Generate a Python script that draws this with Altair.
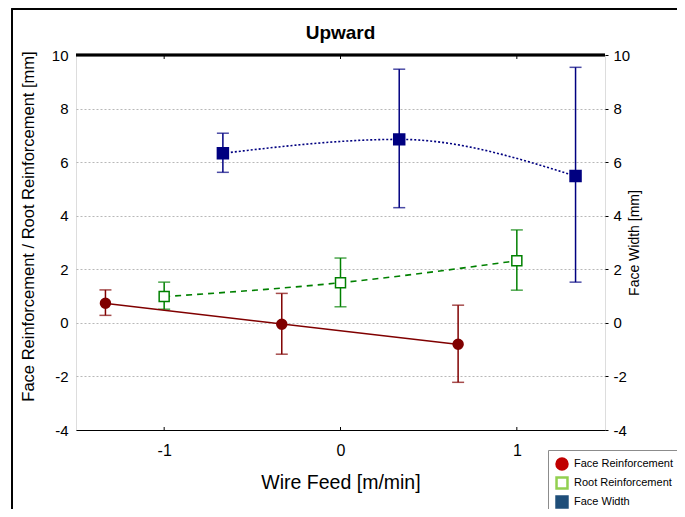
import altair as alt
import pandas as pd

# ---- data ----
x_face = [-1.333, -0.333, 0.667]
face_mean = [0.73, -0.05, -0.80]
face_lo = [0.28, -1.17, -2.22]
face_hi = [1.23, 1.10, 0.66]

x_root = [-1.0, 0.0, 1.0]
root_mean = [0.98, 1.50, 2.32]
root_lo = [0.51, 0.60, 1.22]
root_hi = [1.52, 2.42, 3.47]

x_width = [-0.667, 0.333, 1.333]
width_mean = [6.33, 6.85, 5.48]
width_lo = [5.62, 4.30, 1.52]
width_hi = [7.08, 9.47, 9.54]

series_names = ["Face Reinforcement", "Root Reinforcement", "Face Width"]
x_ticks = [-1, 0, 1]
y_ticks = [-4, -2, 0, 2, 4, 6, 8, 10]

# ---- layout / style ----
W, H = 529, 375
FONT = "Liberation Sans"
C_FACE, C_ROOT, C_WIDTH = "#800000", "#008000", "#000080"
MINUS_FIX = "replace(datum.label, '\u2212', '-')"


def frame(xs, m, lo, hi):
    return pd.DataFrame({"x": xs, "m": m, "lo": lo, "hi": hi})


face_df = frame(x_face, face_mean, face_lo, face_hi)
root_df = frame(x_root, root_mean, root_lo, root_hi)
width_df = frame(x_width, width_mean, width_lo, width_hi)
tick_df = pd.DataFrame({"x": x_ticks})
legend_df = pd.DataFrame({"series": series_names, "x": [0, 0, 0], "m": [0, 0, 0]})

xs = alt.Scale(domain=[-1.5, 1.5], nice=False, zero=False)
ys = alt.Scale(domain=[-4, 10], nice=False, zero=False)

x_axis = alt.Axis(values=x_ticks, title="Wire Feed [m/min]", grid=False,
                  domain=True, domainColor="black", domainWidth=1,
                  ticks=False, labelFontSize=16, labelPadding=12, labelExpr=MINUS_FIX,
                  titleFontSize=19.5, titlePadding=15, titleFontWeight="normal")
X = alt.X("x:Q", scale=xs, axis=x_axis)

left_axis = alt.Axis(values=y_ticks, title="Face Reinforcement / Root Reinforcement [mm]",
                     grid=True, gridColor="#b8b8b8", gridDash=[2, 2], gridWidth=1,
                     domain=False, ticks=False, labelFontSize=15, labelPadding=8,
                     labelExpr=MINUS_FIX,
                     titleFontSize=16.5, titlePadding=15, titleFontWeight="normal",
                     titleY=171)
right_axis = alt.Axis(values=y_ticks, title="Face Width [mm]", orient="right",
                      grid=False, domain=False, ticks=True, tickSize=3, tickColor="black",
                      labelFontSize=15, labelPadding=5, labelExpr=MINUS_FIX,
                      titleFontSize=14, titlePadding=12, titleFontWeight="normal",
                      titleAngle=270)


def YL(field):
    return alt.Y(f"{field}:Q", scale=ys, axis=left_axis)


def YR(field):
    return alt.Y(f"{field}:Q", scale=ys, axis=right_axis)


def series(df, color, Yf, method, dash, point):
    line_kw = dict(color=color, strokeWidth=1.6)
    if dash:
        line_kw["strokeDash"] = dash
    if method == "linear":
        line = alt.Chart(df).transform_regression("m", "x", method="linear").mark_line(
            **line_kw).encode(x=X, y=Yf("m"))
    else:
        line = alt.Chart(df).mark_line(interpolate=method, **line_kw).encode(
            x=X, y=Yf("m"))
    bar = alt.Chart(df).mark_rule(color=color, strokeWidth=1.5).encode(
        x=X, y=Yf("lo"), y2="hi:Q")
    cap_lo = alt.Chart(df).mark_tick(color=color, orient="horizontal", size=12,
                                     thickness=1.5).encode(x=X, y=Yf("lo"))
    cap_hi = alt.Chart(df).mark_tick(color=color, orient="horizontal", size=12,
                                     thickness=1.5).encode(x=X, y=Yf("hi"))
    pts = alt.Chart(df).mark_point(**point).encode(x=X, y=Yf("m"))
    return [line, bar, cap_lo, cap_hi, pts]


face_layers = series(face_df, C_FACE, YL, "linear", None,
                     dict(shape="circle", filled=True, fill=C_FACE, stroke=C_FACE,
                          size=90, opacity=1))
root_layers = series(root_df, C_ROOT, YL, "natural", [6, 5],
                     dict(shape="square", filled=True, fill="white", stroke=C_ROOT,
                          strokeWidth=1.5, size=100, opacity=1))
width_layers = series(width_df, C_WIDTH, YR, "monotone", [2, 2],
                      dict(shape="square", filled=True, fill=C_WIDTH, stroke=C_WIDTH,
                           size=110, opacity=1))

# decorations: thick top frame, inward ticks, outer border
top_line = alt.Chart(tick_df).mark_rule(color="black", strokeWidth=2.5).encode(
    x=alt.value(0), x2=alt.value(W), y=alt.value(0))
top_ticks = alt.Chart(tick_df).mark_rule(color="black", strokeWidth=1).encode(
    x=X, y=alt.value(0), y2=alt.value(4))
bot_ticks = alt.Chart(tick_df).mark_rule(color="black", strokeWidth=1).encode(
    x=X, y=alt.value(H), y2=alt.value(H - 3))
border = alt.Chart(tick_df).mark_rect(fillOpacity=0, stroke="black", strokeWidth=1.5).encode(
    x=alt.value(-64), x2=alt.value(700), y=alt.value(-46), y2=alt.value(600))

leg = alt.Legend(title=None, orient="none", legendX=472, legendY=395,
                 padding=7, strokeColor="#8c8c8c", fillColor="white",
                 labelFont=FONT, labelFontSize=11, labelColor="black",
                 symbolSize=120, symbolStrokeWidth=2.5, symbolOpacity=1,
                 clipHeight=14, rowPadding=5, labelOffset=5)
legend_layer = alt.Chart(legend_df).mark_point(filled=True, opacity=0, size=1).encode(
    x=X, y=YL("m"),
    fill=alt.Fill("series:N", sort=series_names,
                  scale=alt.Scale(domain=series_names, range=["#c00000", "#ffffff", "#1f4e79"]),
                  legend=leg),
    stroke=alt.Stroke("series:N", sort=series_names,
                      scale=alt.Scale(domain=series_names, range=["#c00000", "#92d050", "#1f4e79"]),
                      legend=leg),
    shape=alt.Shape("series:N", sort=series_names,
                    scale=alt.Scale(domain=series_names, range=["circle", "square", "square"]),
                    legend=leg),
)

left_group = alt.layer(border, *root_layers, *face_layers, top_ticks, bot_ticks, top_line,
                       legend_layer)
right_group = alt.layer(*width_layers)

chart = alt.layer(left_group, right_group).resolve_scale(y="independent").properties(
    width=W, height=H,
    title=alt.Title("Upward", fontSize=19, fontWeight="bold", font=FONT, color="black",
                    offset=0, dy=35, anchor="middle"),
    autosize=alt.AutoSizeParams(type="none"),
    padding={"left": 68, "top": 47, "right": 72, "bottom": 79},
).configure_view(stroke="black", strokeWidth=1).configure_axis(
    labelFont=FONT, titleFont=FONT, labelColor="black", titleColor="black",
    titleFontWeight="normal"
).configure(background="white")

chart.save("out.html", embed_options={"renderer": "svg", "actions": False})
